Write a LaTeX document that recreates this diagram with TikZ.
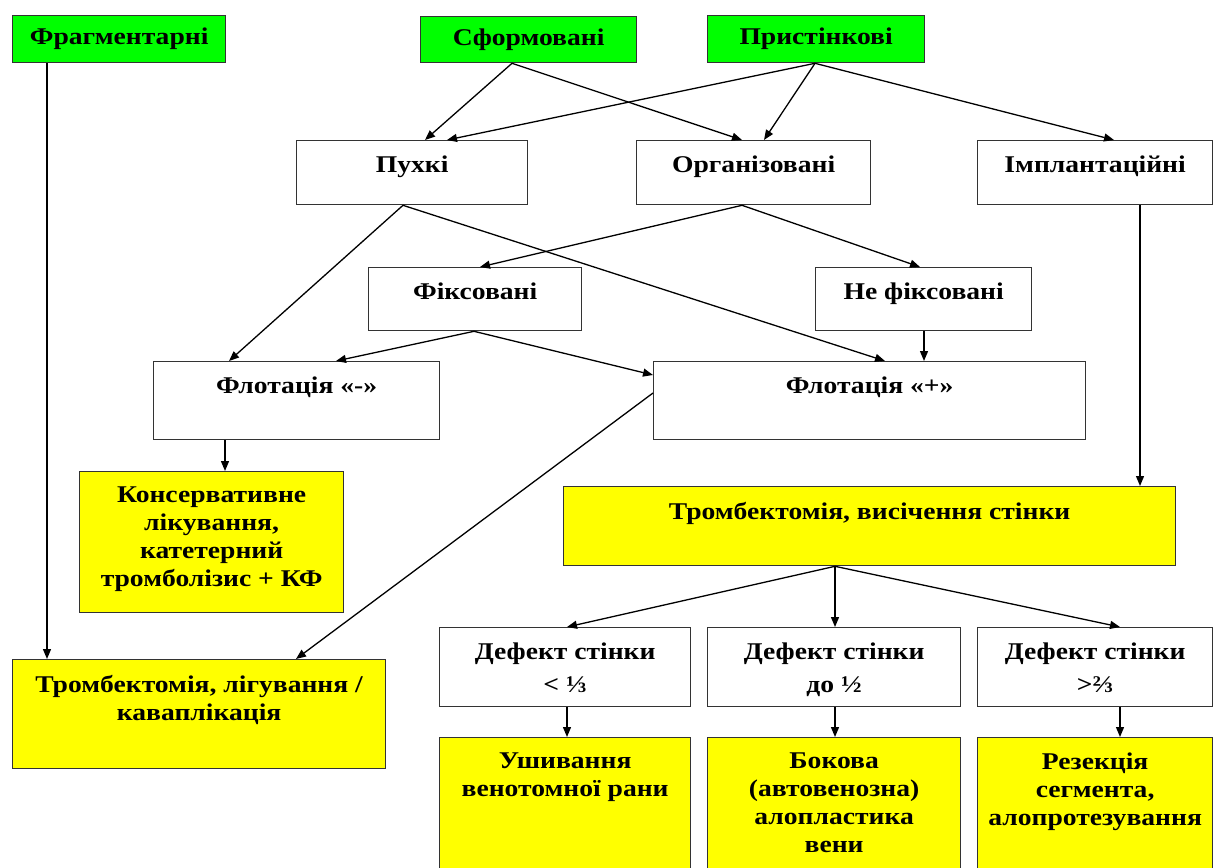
\documentclass[tikz,border=0pt]{standalone}
\usepackage{fontspec}
\setmainfont{Liberation Serif}[FakeStretch=1.15]
\usetikzlibrary{arrows.meta}
\definecolor{bgreen}{RGB}{0,255,0}
\definecolor{byellow}{RGB}{255,255,0}
\begin{document}
\begin{tikzpicture}[x=1pt,y=-1pt,
  every node/.style={font=\fontsize{24}{28}\selectfont\bfseries},
  box/.style={draw=black!80, line width=1.3pt, anchor=north west, inner sep=0pt},
  gbox/.style={box, fill=bgreen},
  wbox/.style={box, fill=white},
  ybox/.style={box, fill=byellow},
  lbl/.style={anchor=north, yshift=-16pt, inner sep=0pt, align=center},
  arr/.style={-{Triangle[length=10pt,width=8pt]}, line width=1.3pt, black}]
\useasboundingbox (0,0) rectangle (1214,867);
% top row
\node[gbox, minimum width=213pt, minimum height=47pt] (fr) at (12,15) {Фрагментарні};
\node[gbox, minimum width=216pt, minimum height=46pt] (sf) at (420,16) {Сформовані};
\node[gbox, minimum width=217pt, minimum height=47pt] (pr) at (707,15) {Пристінкові};
% second row
\node[wbox, minimum width=231pt, minimum height=64pt, label={[lbl]north:Пухкі}] (puh) at (296,140) {};
\node[wbox, minimum width=234pt, minimum height=64pt, label={[lbl]north:Організовані}] (org) at (636,140) {};
\node[wbox, minimum width=235pt, minimum height=64pt, label={[lbl]north:Імплантаційні}] (imp) at (977,140) {};
% third row
\node[wbox, minimum width=213pt, minimum height=63pt, label={[lbl]north:Фіксовані}] (fix) at (368,267) {};
\node[wbox, minimum width=216pt, minimum height=63pt, label={[lbl]north:Не фіксовані}] (nfix) at (815,267) {};
% flotation
\node[wbox, minimum width=286pt, minimum height=78pt, label={[lbl]north:Флотація «-»}] (flm) at (153,361) {};
\node[wbox, minimum width=432pt, minimum height=78pt, label={[lbl]north:Флотація «+»}] (flp) at (653,361) {};
% yellow
\node[ybox, minimum width=264pt, minimum height=141pt, label={[lbl]north:Консервативне\\лікування,\\катетерний\\тромболізис + КФ}] (kons) at (79,471) {};
\node[ybox, minimum width=612pt, minimum height=79pt, label={[lbl]north:Тромбектомія, висічення стінки}] (tvs) at (563,486) {};
\node[ybox, minimum width=373pt, minimum height=109pt, label={[lbl]north:Тромбектомія, лігування /\\каваплікація}] (tlk) at (12,659) {};
% defects
\node[wbox, minimum width=251pt, minimum height=79pt, label={[lbl]north:Дефект стінки\\[5pt]< ⅓}] (d1) at (439,627) {};
\node[wbox, minimum width=253pt, minimum height=79pt, label={[lbl]north:Дефект стінки\\[5pt]до ½}] (d2) at (707,627) {};
\node[wbox, minimum width=235pt, minimum height=79pt, label={[lbl]north:Дефект стінки\\[5pt]>⅔}] (d3) at (977,627) {};
% results
\node[ybox, minimum width=251pt, minimum height=135pt, label={[lbl]north:Ушивання\\венотомної рани}] (r1) at (439,737) {};
\node[ybox, minimum width=253pt, minimum height=135pt, label={[lbl]north:Бокова\\(автовенозна)\\алопластика\\вени}] (r2) at (707,737) {};
\node[ybox, minimum width=235pt, minimum height=135pt, label={[lbl]north:Резекція\\сегмента,\\алопротезування}] (r3) at (977,737) {};
% connectors
\draw[arr] ([xshift=35pt]fr.south west) -- ([xshift=35pt]tlk.north west);
\draw[arr] ([xshift=92pt]sf.south west) -- ([xshift=129pt]puh.north west);
\draw[arr] ([xshift=92pt]sf.south west) -- ([xshift=106pt]org.north west);
\draw[arr] ([xshift=108pt]pr.south west) -- ([xshift=151pt]puh.north west);
\draw[arr] ([xshift=108pt]pr.south west) -- ([xshift=128pt]org.north west);
\draw[arr] ([xshift=108pt]pr.south west) -- ([xshift=137pt]imp.north west);
\draw[arr] ([xshift=107pt]puh.south west) -- ([xshift=76pt]flm.north west);
\draw[arr] ([xshift=107pt]puh.south west) -- ([xshift=232pt]flp.north west);
\draw[arr] ([xshift=106pt]org.south west) -- ([xshift=112pt]fix.north west);
\draw[arr] ([xshift=106pt]org.south west) -- ([xshift=105pt]nfix.north west);
\draw[arr] ([xshift=106pt]fix.south west) -- ([xshift=183pt]flm.north west);
\draw[arr] ([xshift=106pt]fix.south west) -- ([yshift=-14pt]flp.north west);
\draw[arr] ([xshift=109pt]nfix.south west) -- ([xshift=271pt]flp.north west);
\draw[arr] ([xshift=72pt]flm.south west) -- ([xshift=146pt]kons.north west);
\draw[arr] ([yshift=-32pt]flp.north west) -- ([xshift=284pt]tlk.north west);
\draw[arr] ([xshift=163pt]imp.south west) -- ([xshift=577pt]tvs.north west);
\draw[arr] ([xshift=272pt]tvs.south west) -- ([xshift=128pt]d1.north west);
\draw[arr] ([xshift=272pt]tvs.south west) -- ([xshift=128pt]d2.north west);
\draw[arr] ([xshift=272pt]tvs.south west) -- ([xshift=143pt]d3.north west);
\draw[arr] ([xshift=128pt]d1.south west) -- ([xshift=128pt]r1.north west);
\draw[arr] ([xshift=128pt]d2.south west) -- ([xshift=128pt]r2.north west);
\draw[arr] ([xshift=143pt]d3.south west) -- ([xshift=143pt]r3.north west);
\end{tikzpicture}
\end{document}
